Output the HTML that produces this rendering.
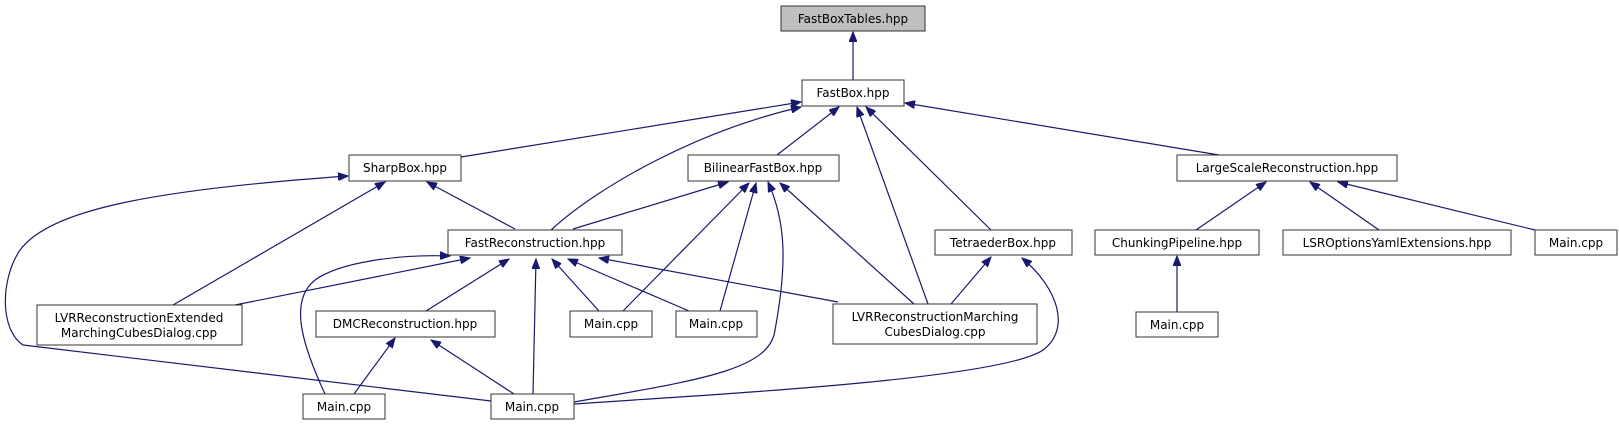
<!DOCTYPE html>
<html><head><meta charset="utf-8"><style>
html,body{margin:0;padding:0;background:#fff;}
svg{display:block;}
text{font-family:"DejaVu Sans","Liberation Sans",sans-serif;font-size:12px;fill:#000;}
rect{fill:#fff;stroke:#333;stroke-width:1;}
path.e{fill:none;stroke:#191970;stroke-width:1.2;}
</style></head><body>
<svg width="1619" height="425" viewBox="0 0 1619 425" xmlns="http://www.w3.org/2000/svg">
<defs>
<marker id="a" markerWidth="11" markerHeight="8" refX="10" refY="4" orient="auto" markerUnits="userSpaceOnUse">
<path d="M0,0 L10,4 L0,8 Z" fill="#191970" stroke="#191970"/>
</marker>
</defs>
<g marker-end="url(#a)">
<path class="e" d="M853,80 L853,32"/>
<path class="e" d="M461,157 L801,102"/>
<path class="e" d="M551,230 C600,185 700,130 801,107"/>
<path class="e" d="M777,155 L839,107"/>
<path class="e" d="M928,304 L857,107"/>
<path class="e" d="M991,230 L866,107"/>
<path class="e" d="M1219,155 L905,103"/>
<path class="e" d="M515,229 L427,182"/>
<path class="e" d="M173,305 L385,182"/>
<path class="e" d="M491,401 L23,345 C0,330 0,280 20,250 C50,210 150,190 348,176"/>
<path class="e" d="M573,229 L728,182"/>
<path class="e" d="M623,311 L749,183"/>
<path class="e" d="M720,311 L756,183"/>
<path class="e" d="M574,402 C700,380 770,370 775,330 C788,260 785,220 768,182"/>
<path class="e" d="M914,304 L780,183"/>
<path class="e" d="M235,305 L470,258"/>
<path class="e" d="M325,394 C300,340 290,300 315,280 C340,262 400,254 450,256"/>
<path class="e" d="M426,311 L509,259"/>
<path class="e" d="M533,394 L536,259"/>
<path class="e" d="M599,311 L552,259"/>
<path class="e" d="M689,311 L568,259"/>
<path class="e" d="M838,302 L599,258"/>
<path class="e" d="M354,394 L395,338"/>
<path class="e" d="M514,394 L431,340"/>
<path class="e" d="M951,304 L991,257"/>
<path class="e" d="M574,404 C700,395 1000,380 1043,350 C1070,330 1060,290 1022,258"/>
<path class="e" d="M1196,230 L1266,182"/>
<path class="e" d="M1379,230 L1310,182"/>
<path class="e" d="M1535,230 L1338,182"/>
<path class="e" d="M1177,312 L1177,256"/>
</g>
<rect x="781" y="6" width="144" height="25" style="fill:#bfbfbf"/><text x="853" y="23" text-anchor="middle">FastBoxTables.hpp</text>
<rect x="802" y="80" width="102" height="26"/><text x="853" y="97" text-anchor="middle">FastBox.hpp</text>
<rect x="349" y="155" width="112" height="26"/><text x="405" y="172" text-anchor="middle">SharpBox.hpp</text>
<rect x="688" y="155" width="151" height="26"/><text x="763" y="172" text-anchor="middle">BilinearFastBox.hpp</text>
<rect x="1177" y="155" width="220" height="26"/><text x="1287" y="172" text-anchor="middle">LargeScaleReconstruction.hpp</text>
<rect x="448" y="230" width="174" height="25"/><text x="535" y="247" text-anchor="middle">FastReconstruction.hpp</text>
<rect x="935" y="230" width="137" height="25"/><text x="1003" y="247" text-anchor="middle">TetraederBox.hpp</text>
<rect x="1095" y="230" width="164" height="25"/><text x="1177" y="247" text-anchor="middle">ChunkingPipeline.hpp</text>
<rect x="1283" y="230" width="228" height="25"/><text x="1397" y="247" text-anchor="middle">LSROptionsYamlExtensions.hpp</text>
<rect x="1535" y="230" width="82" height="25"/><text x="1576" y="247" text-anchor="middle">Main.cpp</text>
<rect x="37" y="305" width="205" height="40"/><text x="139" y="322" text-anchor="middle">LVRReconstructionExtended</text><text x="139" y="337" text-anchor="middle">MarchingCubesDialog.cpp</text>
<rect x="316" y="311" width="179" height="26"/><text x="405" y="328" text-anchor="middle">DMCReconstruction.hpp</text>
<rect x="570" y="311" width="82" height="26"/><text x="611" y="328" text-anchor="middle">Main.cpp</text>
<rect x="676" y="311" width="81" height="26"/><text x="716" y="328" text-anchor="middle">Main.cpp</text>
<rect x="833" y="304" width="204" height="40"/><text x="935" y="321" text-anchor="middle">LVRReconstructionMarching</text><text x="935" y="336" text-anchor="middle">CubesDialog.cpp</text>
<rect x="1136" y="312" width="82" height="25"/><text x="1177" y="329" text-anchor="middle">Main.cpp</text>
<rect x="303" y="394" width="82" height="25"/><text x="344" y="411" text-anchor="middle">Main.cpp</text>
<rect x="491" y="394" width="83" height="25"/><text x="532" y="411" text-anchor="middle">Main.cpp</text>
</svg>
</body></html>
